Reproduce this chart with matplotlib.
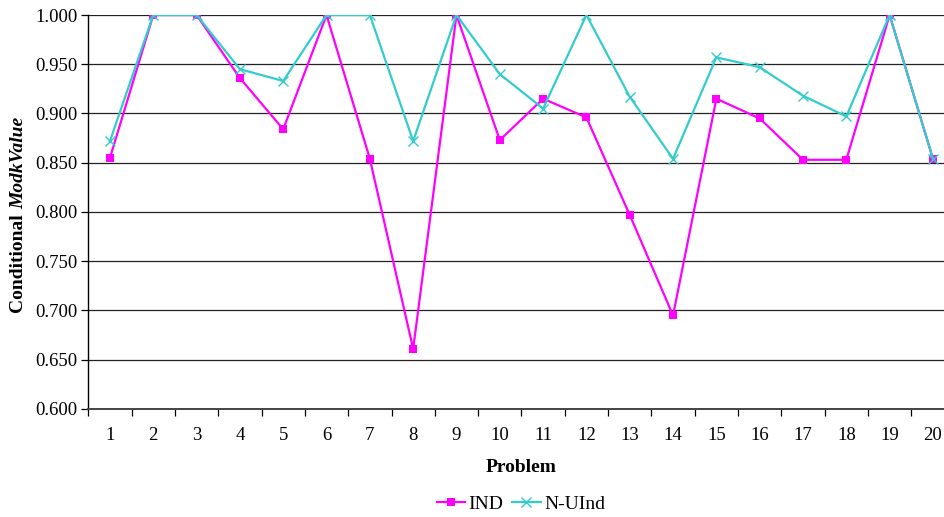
import matplotlib
matplotlib.use("Agg")
import matplotlib.pyplot as plt
from matplotlib.ticker import MultipleLocator, FixedLocator, FormatStrFormatter

plt.rcParams['font.family'] = ['Liberation Serif', 'DejaVu Serif']

problems = list(range(1, 21))
ind = [0.855, 1.000, 1.000, 0.936, 0.884, 1.000, 0.854, 0.661, 1.000, 0.873,
       0.915, 0.896, 0.797, 0.695, 0.915, 0.895, 0.853, 0.853, 1.000, 0.854]
n_uind = [0.872, 1.000, 1.000, 0.945, 0.933, 1.000, 1.000, 0.872, 1.000, 0.940,
          0.905, 1.000, 0.917, 0.854, 0.957, 0.947, 0.918, 0.897, 1.000, 0.854]

W, H = 945, 517
fig = plt.figure(figsize=(W / 100, H / 100), dpi=100)
left, right, top, bottom = 88.3, 954.6, 15, 409
ax = fig.add_axes([left / W, 1 - bottom / H, (right - left) / W, (bottom - top) / H])

ax.plot(problems, ind, color='#FF00FF', lw=1.6, marker='s', markersize=5.5,
        markeredgewidth=0, label='IND', zorder=3)
ax.plot(problems, n_uind, color='#33CCCC', lw=1.6, marker='x', markersize=6.5,
        markeredgewidth=1.0, label='N-UInd', zorder=3)

ax.set_xlim(0.5, 20.5)
ax.set_ylim(0.6, 1.0)
ax.yaxis.set_major_locator(MultipleLocator(0.05))
ax.yaxis.set_major_formatter(FormatStrFormatter('%.3f'))
ax.grid(axis='y', color='#222222', lw=0.9, zorder=0)
ax.set_axisbelow(True)

ax.set_xticks(problems)
ax.set_xticklabels([str(p) for p in problems])
ax.xaxis.set_minor_locator(FixedLocator([p + 0.5 for p in range(0, 21)]))
ax.tick_params(axis='x', which='major', length=0, labelsize=13.5, pad=13)
ax.tick_params(axis='x', which='minor', length=5, width=0.9, direction='out')
ax.tick_params(axis='y', which='major', length=5, width=0.9, direction='out',
               labelsize=13.5, pad=3)

for s in ('top', 'right'):
    ax.spines[s].set_visible(False)
ax.spines['left'].set_linewidth(1.0)
ax.spines['left'].set_color('black')
ax.spines['bottom'].set_linewidth(1.4)
ax.spines['bottom'].set_color('#444444')

ax.set_xlabel('Problem', fontsize=14, fontweight='bold', labelpad=11)

# y-axis title: plain bold "Conditional" followed by bold-italic "ModkValue"
split = 1 - 209 / H
fig.text(19 / W, split, 'Conditional ', rotation=90, fontsize=14,
         fontweight='bold', ha='center', va='top')
fig.text(19 / W, split, 'ModkValue', rotation=90, fontsize=14,
         fontweight='bold', fontstyle='italic', ha='center', va='bottom')

fig.legend(loc='center', bbox_to_anchor=(521 / W, 1 - 504 / H), ncol=2,
           frameon=False, fontsize=14, handlelength=1.45, handletextpad=0.2,
           columnspacing=0.45, borderpad=0)

fig.savefig('out.png', dpi=100)
